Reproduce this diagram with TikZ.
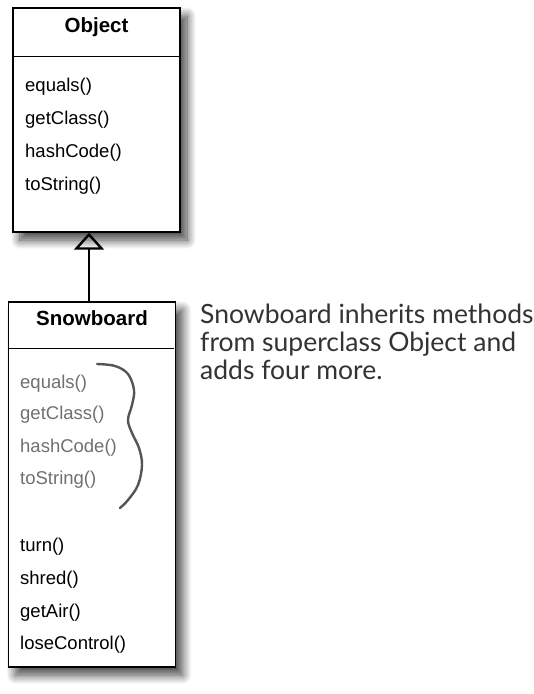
\documentclass[tikz,border=0pt]{standalone}
\usepackage{fontspec}
\setmainfont{Liberation Sans}
\newfontfamily\notefont{Lato}
\usepackage{tikz}
\usetikzlibrary{arrows.meta,shadows.blur}

\definecolor{inhgray}{HTML}{707070}
\definecolor{bracegray}{HTML}{555555}
\definecolor{notegray}{HTML}{333333}

\begin{document}
\begin{tikzpicture}[
    x=1pt, y=-1pt,
    classbox/.style={rectangle, draw, line width=1.4pt, fill=white, minimum width=167pt, inner sep=0pt,
        blur shadow={shadow xshift=7pt, shadow yshift=-8pt, shadow blur radius=9pt, shadow blur steps=16, shadow opacity=75}},
    title/.style={anchor=base, font=\fontsize{20.5}{24}\selectfont\bfseries, inner sep=0pt},
    method/.style={anchor=base west, font=\fontsize{18.5}{22}\selectfont, inner sep=0pt},
    inherited/.style={method, text=inhgray},
    inherit/.style={-{Triangle[open, length=17pt, width=30pt, line width=2.4pt]}, line width=2.8pt},
    brace/.style={bracegray, line width=2.4pt, line cap=round, line join=round},
    note/.style={anchor=north west, align=left, text=notegray, font=\notefont\fontsize{26.5}{28}\selectfont, inner sep=0pt}
]
    \useasboundingbox (0,0) rectangle (534,694);

    % Object class
    \node[classbox, minimum height=224pt] (object) at (96.5,120) {};
    \draw[line width=1.2pt] (object.north west) ++(0,49) -- ++(167,0);
    \node[title] (objtitle) at (96.5,32) {Object};
    \node[method] (objequals) at (25,91) {equals()};
    \node[method] (objgetclass) at (25,124) {getClass()};
    \node[method] (objhashcode) at (25,157) {hashCode()};
    \node[method] (objtostring) at (25,190) {toString()};

    % Snowboard class
    \node[classbox, minimum height=365pt] (snowboard) at (92,484.5) {};
    \draw[line width=1.2pt] (snowboard.north west) ++(0,47) -- ++(166,0);
    \node[title] (sbtitle) at (92,325) {Snowboard};
    \node[inherited] (sbequals) at (20,388) {equals()};
    \node[inherited] (sbgetclass) at (20,419) {getClass()};
    \node[inherited] (sbhashcode) at (20,452) {hashCode()};
    \node[inherited] (sbtostring) at (20,484) {toString()};
    \node[method] (turn) at (20,551) {turn()};
    \node[method] (shred) at (20,584) {shred()};
    \node[method] (getair) at (20,617) {getAir()};
    \node[method] (losecontrol) at (20,649) {loseControl()};

    % Inheritance
    \draw[inherit] (snowboard.north -| 89,0) -- (object.south -| 89,0);

    % Brace
    \draw[brace] plot[smooth, tension=0.6] coordinates {(97,364) (115,366) (128,374) (134,390) (132,405) (128,420) (132,433) (139,448) (142,465) (138,485) (128,500) (120,508)};

    % Note
    \node[note] (note) at (200,304) {Snowboard inherits methods\\from superclass Object and\\adds four more.};
\end{tikzpicture}
\end{document}
